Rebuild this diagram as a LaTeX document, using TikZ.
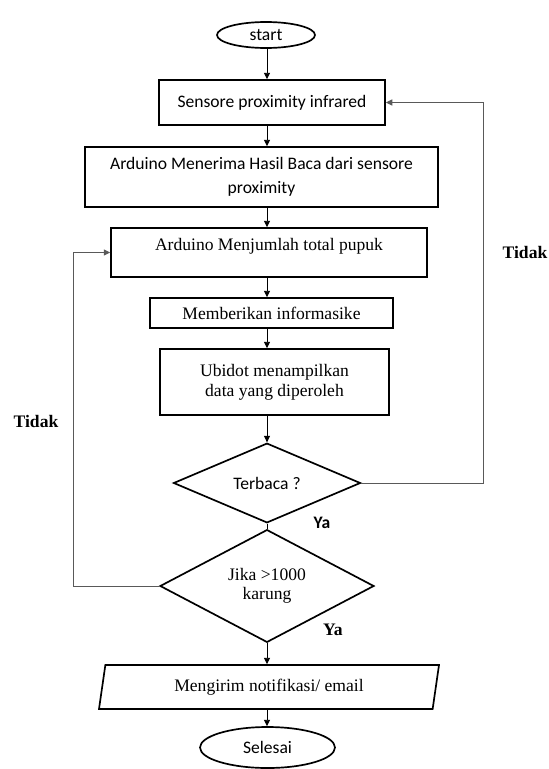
\documentclass[tikz,border=0pt]{standalone}
\usepackage{fontspec}
\setmainfont{Liberation Serif}
\newfontfamily\calibri{Carlito}
\usetikzlibrary{shapes,arrows.meta,positioning}

\begin{document}
\begin{tikzpicture}[x=0.25mm, y=-0.25mm, ->, >={Triangle[length=1.6mm,width=1.5mm]},
    font=\fontsize{12.5}{15}\selectfont]
    \tikzstyle{proc}=[rectangle, draw=black, line width=1.2pt, align=center, inner sep=2pt]
    \tikzstyle{term}=[ellipse, draw=black, line width=1.2pt, inner sep=0pt, font=\calibri\fontsize{12.5}{15}\selectfont]
    \tikzstyle{cond}=[diamond, draw=black, line width=1.2pt, inner sep=0pt, align=center]
    \tikzstyle{io}=[trapezium, trapezium left angle=76, trapezium right angle=104,
        trapezium stretches body, draw=black, line width=1.2pt]
    \tikzstyle{back}=[draw=black!65, line width=0.7pt]
    \tikzstyle{flow}=[black, line width=0.7pt]
    \tikzstyle{ket}=[font=\bfseries\fontsize{12.5}{15}\selectfont]
    \useasboundingbox (0,0) rectangle (548,769);
    \node[term, minimum width=24.5mm, minimum height=6.5mm] (start) at (266,35) {start};
    \node[proc, minimum width=56.5mm, minimum height=11.25mm, font=\calibri\fontsize{12.5}{15}\selectfont] (sensor) at (272,102.5) {Sensore proximity infrared};
    \node[proc, minimum width=88.25mm, minimum height=15mm, font=\calibri\fontsize{12.5}{17}\selectfont] (baca) at (261.5,177) {Arduino Menerima Hasil Baca dari sensore\\proximity};
    \node[proc, minimum width=79mm, minimum height=12.25mm, text height=3mm, text depth=3.8mm] (jumlah) at (269,252.5) {Arduino Menjumlah total pupuk};
    \node[proc, minimum width=60.75mm, minimum height=7.5mm] (info) at (271.5,313) {Memberikan informasike};
    \node[proc, minimum width=57.25mm, minimum height=16.5mm, font=\fontsize{12.5}{14.5}\selectfont] (ubidot) at (274.5,382) {Ubidot menampilkan\\data yang diperoleh};
    \node[cond, minimum width=46.75mm, minimum height=19.75mm, font=\calibri\fontsize{12.5}{15}\selectfont] (terbaca) at (267,483) {Terbaca ?};
    \node[cond, minimum width=53.5mm, minimum height=25.5mm, font=\fontsize{12.5}{13.5}\selectfont] (jika) at (267,586) {Jika >1000\\karung};
    \node[io, minimum width=85mm, minimum height=11mm] (kirim) at (269,687) {Mengirim notifikasi/ email};
    \node[term, minimum width=33.75mm, minimum height=10.25mm] (selesai) at (267.5,747.5) {Selesai};
    % keterangan
    \node[ket, font=\calibri\bfseries\fontsize{12.5}{15}\selectfont] (ya1) at (322,523) {Ya};
    \node[ket] (ya2) at (333,630) {Ya};
    \node[ket] (tidak1) at (525,252) {Tidak};
    \node[ket] (tidak2) at (36,421) {Tidak};
    % alur utama
    \coordinate (spine) at (267,0);
    \coordinate (rkanan) at (483,0);
    \coordinate (rkiri) at (73,0);
    \foreach \a/\b in {start/sensor,sensor/baca,baca/jumlah,jumlah/info,info/ubidot,ubidot/terbaca,jika/kirim,kirim/selesai} {
        \path (\a.south -| spine) edge[flow] (\b.north -| spine);
    }
    \draw[flow, -] (terbaca.south) -- (jika.north);
    % kembali
    \draw[back] (terbaca.east) -- (terbaca.east -| rkanan) |- (sensor.east);
    \draw[back] (jika.west) -- (jika.west -| rkiri) |- (jumlah.west);
\end{tikzpicture}
\end{document}
